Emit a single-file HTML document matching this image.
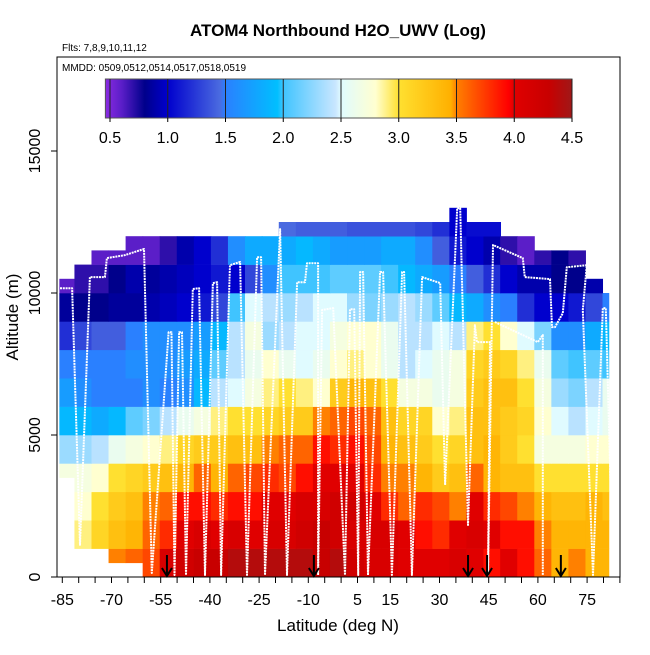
<!DOCTYPE html>
<html><head><meta charset="utf-8">
<style>
html,body{margin:0;padding:0;background:#fff;}
svg text{font-family:"Liberation Sans",sans-serif;}
</style></head>
<body>
<svg id="chart" width="650" height="650" viewBox="0 0 650 650" xmlns="http://www.w3.org/2000/svg">
<defs>
<linearGradient id="cbar" x1="0" x2="1" y1="0" y2="0">
</linearGradient>
<clipPath id="plotclip"><rect x="57" y="57" width="563" height="520"/></clipPath>
</defs>
<text x="338" y="36" text-anchor="middle" font-size="17" font-weight="bold">ATOM4 Northbound H2O_UWV (Log)</text>
<text x="62" y="51" font-size="10">Flts: 7,8,9,10,11,12</text>
<g id="heat" clip-path="url(#plotclip)"></g>
<g id="track" clip-path="url(#plotclip)"></g>
<g id="arrows"></g>
<rect x="57" y="57" width="563" height="520" fill="none" stroke="#000" stroke-width="1"/>
<text x="62" y="71" font-size="10">MMDD: 0509,0512,0514,0517,0518,0519</text>
<g id="cb"></g>
<g id="xaxis"></g>
<g id="yaxis"></g>
<text x="338" y="631" text-anchor="middle" font-size="17">Latitude (deg N)</text>
<text x="18" y="317" text-anchor="middle" font-size="17" transform="rotate(-90 18 317)">Altitude (m)</text>
</svg>
<script>
// ---- data ----
const latCenters = [-83.9,-78.7,-73.5,-68.3,-63.1,-57.9,-52.7,-47.5,-42.3,-37.1,-31.9,-26.7,-21.6,-16.4,-11.2,-6.0,-0.8,4.4,9.6,14.8,20.0,25.2,30.4,35.6,40.8,46.0,51.1,56.3,61.5,66.7,71.9,77.1,82.3];
const colWidthDeg = 5.2;
const altRowBottoms = [0,1000,2000,3000,4000,5000,6000,7000,8000,9000,10000,11000,12000];
const colTop = [10500,11000,11500,11500,12000,12000,12000,12000,12000,12000,12000,12000,12000,12500,12500,12500,12500,12500,12500,12500,12500,12500,12500,13000,12500,12500,12000,12000,11500,11500,11500,10500,10000];
const colBottom = [3500,1000,1000,500,500,0,0,0,0,0,0,0,0,0,0,0,0,0,0,0,0,0,0,0,0,0,0,0,0,0,0,0,0];
const row0 = [0,0,0,3.5,3.6,3.7,4.1,4.2,4.3,4.3,4.4,4.4,4.4,4.4,4.4,4.3,4.4,4.2,4.1,4.1,4.0,4.0,4.0,4.1,4.0,3.9,4.0,3.9,3.6,3.4,3.5,3.4,3.4];
const row1 = [0,2.9,3.1,3.3,3.4,3.6,3.8,4.0,4.1,4.0,4.1,4.0,4.1,4.1,4.2,4.3,4.2,4.1,4.1,4.1,4.0,3.9,3.8,4.0,4.1,4.0,3.9,3.9,3.5,3.4,3.4,3.4,3.4];
const row2 = [2.8,2.8,3.0,3.2,3.3,3.5,3.6,3.9,3.9,3.8,3.9,3.9,4.0,4.0,4.1,4.1,4.2,4.2,4.0,3.8,3.6,3.8,3.7,3.5,4.0,3.8,3.7,3.5,3.4,3.3,3.3,3.4,3.3];
const row3 = [2.7,2.7,2.8,3.0,3.1,3.2,3.3,3.4,3.6,3.4,3.6,3.7,3.8,3.7,3.9,4.0,4.0,4.0,3.8,3.5,3.5,3.4,3.2,3.3,3.6,3.4,3.3,3.3,3.0,3.0,3.0,3.0,3.0];
const row4 = [2.3,2.3,2.4,2.6,2.7,2.8,2.9,3.1,3.2,3.2,3.3,3.3,3.5,3.6,3.6,3.9,3.8,3.9,3.7,3.4,3.3,3.2,3.0,3.1,3.3,3.4,3.2,3.0,2.7,2.7,2.7,2.8,2.8];
const row5 = [1.9,1.9,1.8,1.9,2.1,2.2,2.4,2.6,2.7,2.9,3.0,3.0,3.1,3.2,3.2,3.5,3.6,3.7,3.6,3.3,3.1,3.1,2.8,2.9,3.3,3.3,3.2,3.1,2.8,2.5,2.4,2.5,2.6];
const row6 = [1.7,1.6,1.5,1.5,1.5,1.6,1.5,1.6,1.9,2.4,2.5,2.7,2.9,3.0,2.9,2.8,3.2,3.4,3.3,3.0,2.7,2.7,2.6,2.7,3.2,3.3,3.3,3.0,2.7,2.3,2.2,2.4,2.6];
const row7 = [1.5,1.5,1.5,1.5,1.6,1.6,1.6,1.7,1.8,2.1,2.4,2.6,2.8,2.6,2.5,2.6,2.8,2.9,2.8,2.6,2.4,2.5,2.6,2.7,3.1,3.2,3.1,2.9,2.6,2.1,2.0,2.1,2.0];
const row8 = [1.2,1.3,1.4,1.4,1.5,1.6,1.6,1.6,1.7,1.9,2.4,2.7,2.3,2.4,2.5,2.5,2.7,2.8,2.8,2.6,2.4,2.4,2.5,2.4,2.9,3.0,2.8,2.5,2.2,1.6,1.6,1.8,1.9];
const row9 = [0.85,0.8,0.8,0.85,0.85,0.9,0.95,1.0,1.1,1.3,2.0,2.5,2.4,2.3,2.4,2.5,2.5,2.3,2.2,2.3,2.4,2.3,2.1,1.9,1.8,1.6,1.5,1.2,1.0,1.0,1.1,1.3,1.5];
const row10 = [0.6,0.7,0.7,0.8,0.9,0.85,0.9,0.95,1.0,1.1,1.0,1.3,1.6,2.0,2.0,2.0,2.1,2.1,2.1,2.0,1.9,1.8,1.7,1.5,1.4,1.2,1.0,0.9,0.9,0.8,0.8,0.9,1.0];
const row11 = [0,0,0.6,0.6,0.6,0.6,0.7,0.9,1.0,1.2,1.6,1.8,1.8,1.8,1.9,1.8,1.7,1.7,1.7,1.8,1.8,1.6,1.4,1.1,1.0,0.9,0.7,0.6,0.7,0.8,0.7,0,0];
const row12 = [0,0,0,0,0,0,0,0,0,0,0,0,0,1.45,1.4,1.4,1.4,1.35,1.35,1.35,1.35,1.3,1.2,1.0,1.05,1.05,0,0,0,0,0,0,0];
const rows = [row0,row1,row2,row3,row4,row5,row6,row7,row8,row9,row10,row11,row12];
const trackLat = [-85.7,-82.0,-79.6,-76.6,-72.0,-71.4,-66.0,-60.1,-57.7,-52.6,-51.7,-50.8,-49.4,-48.5,-47.3,-45.2,-43.3,-41.5,-39.1,-37.8,-36.6,-33.9,-30.8,-28.7,-25.6,-24.4,-23.2,-18.6,-16.5,-13.4,-11.0,-10.4,-7.0,-7.0,-5.8,-2.4,1.2,2.7,4.0,5.2,5.8,6.7,8.2,11.9,12.8,15.5,18.6,19.2,21.6,24.7,30.2,31.7,35.4,36.3,38.7,40.8,41.4,45.4,44.8,46.3,55.4,56.0,63.7,64.3,65.2,67.6,68.8,74.9,73.7,76.8,79.8,80.7,82.9];
const trackAlt = [10170,10170,1130,10560,10560,11230,11330,11550,140,8620,8620,70,8620,8620,70,10140,10170,70,10350,10380,70,10980,11090,70,11260,11260,70,12250,70,10380,10380,11050,11050,70,9400,9470,70,9430,9430,70,10740,10740,70,10740,10740,70,10740,10740,70,10560,10350,3240,12990,12990,1830,8870,8270,8270,70,11690,11230,10560,10490,8800,8800,9290,10910,10980,9400,70,9470,9470,70];
const track2Lat = [46.9,60.0,61.5,61.5];
const track2Alt = [8980,8270,8520,70];
const arrowLats = [-53.1,-8.3,38.7,44.5,67.0];
const xTickLabels = [-85,-70,-55,-40,-25,-10,5,15,30,45,60,75];
const yTickLabels = [0,5000,10000,15000];
const cbTickLabels = [0.5,1.0,1.5,2.0,2.5,3.0,3.5,4.0,4.5];
const cbStopVals = [0.46,0.6,0.8,1.0,1.45,1.5,1.95,2.0,2.45,2.5,2.8,3.0,3.45,3.5,3.95,4.0,4.3,4.5];
const cbStopCols = ["#8a2be2","#5b1ec8","#00008b","#0000cd","#4a6ae0","#2a80ff","#00bfff","#40c4ff","#c8e6ff","#e0fbff","#ffffd0","#ffe030","#ffb000","#ff8000","#ff0000","#e00000","#c80000","#a01818"];

// ---- scales ----
const NS="http://www.w3.org/2000/svg";
const xS = lat => 62.3 + (lat + 85) * 3.28;
const yS = alt => 577 - alt * 0.0284;
const cbX = v => 110 + (v - 0.5) * 115.5;
function hex(c){return [parseInt(c.substr(1,2),16),parseInt(c.substr(3,2),16),parseInt(c.substr(5,2),16)];}
function colorOf(v){
  if(v<=cbStopVals[0]) return cbStopCols[0];
  for(let i=1;i<cbStopVals.length;i++){
    if(v<=cbStopVals[i]){
      const t=(v-cbStopVals[i-1])/(cbStopVals[i]-cbStopVals[i-1]);
      const a=hex(cbStopCols[i-1]), b=hex(cbStopCols[i]);
      return "rgb("+a.map((x,k)=>Math.round(x+(b[k]-x)*t)).join(",")+")";
    }
  }
  return cbStopCols[cbStopCols.length-1];
}
function mk(tag, attrs, parent){const e=document.createElementNS(NS,tag);for(const k in attrs)e.setAttribute(k,attrs[k]);parent.appendChild(e);return e;}

// ---- heatmap ----
const heat=document.getElementById('heat');
rows.forEach((row,r)=>{
  const rb=altRowBottoms[r], rt=rb+1000;
  row.forEach((v,c)=>{
    if(!v) return;
    const lo=Math.max(rb,colBottom[c]), hi=Math.min(rt,colTop[c]);
    if(hi<=lo) return;
    const x0=xS(Math.max(latCenters[c]-colWidthDeg/2,-85.9)), x1=xS(Math.min(latCenters[c]+colWidthDeg/2,81.6));
    const el=mk('rect',{x:x0,y:yS(hi),width:x1-x0+0.5,height:yS(lo)-yS(hi)+0.3,fill:colorOf(v)},heat);
    
    
  });
});

// ---- track ----
const track=document.getElementById('track');
function poly(la,al){
  const pts=la.map((l,i)=>xS(l).toFixed(1)+","+yS(al[i]).toFixed(1)).join(" ");
  const el=mk('polyline',{points:pts,fill:"none",stroke:"#fff","stroke-width":"2","stroke-dasharray":"2 0.8","stroke-linejoin":"round"},track);
  
  
}
poly(trackLat,trackAlt);
poly(track2Lat,track2Alt);

// ---- arrows ----
const arr=document.getElementById('arrows');
arrowLats.forEach(l=>{
  const x=xS(l);
  const g=mk('g',{},arr);
  
  
  mk('line',{x1:x,y1:555,x2:x,y2:576,stroke:"#000","stroke-width":"2"},g);
  mk('polyline',{points:(x-5)+",568 "+x+",576 "+(x+5)+",568",fill:"none",stroke:"#000","stroke-width":"2"},g);
});

// ---- x axis ----
const xa=document.getElementById('xaxis');
for(let l=-85;l<=85;l+=5){
  const el=mk('line',{x1:xS(l),y1:577,x2:xS(l),y2:583,stroke:"#000","stroke-width":"1"},xa);
  
  
}
xTickLabels.forEach(l=>{
  const t=mk('text',{x:xS(l),y:605,"text-anchor":"middle","font-size":"16"},xa);
  t.textContent=l;
  
  
});
// ---- y axis ----
const ya=document.getElementById('yaxis');
yTickLabels.forEach(a=>{
  const y=yS(a);
  const el=mk('line',{x1:51,y1:y,x2:57,y2:y,stroke:"#000","stroke-width":"1"},ya);
  
  
  const t=mk('text',{x:40,y:y,"text-anchor":"middle","font-size":"16",transform:"rotate(-90 40 "+y+")"},ya);
  t.textContent=a;
  
  
});

// ---- colorbar ----
const grad=document.getElementById('cbar');
cbStopVals.forEach((v,i)=>{
  mk('stop',{offset:((v-0.46)/(4.5-0.46)).toFixed(4),"stop-color":cbStopCols[i]},grad);
});
const cb=document.getElementById('cb');
const cbx0=cbX(0.46), cbx1=cbX(4.5);
const bar=mk('rect',{x:cbx0,y:79,width:cbx1-cbx0,height:39,fill:"url(#cbar)",stroke:"#555","stroke-width":"1"},cb);


cbTickLabels.forEach(v=>{
  const x=cbX(v);
  mk('line',{x1:x,y1:79,x2:x,y2:118,stroke:"#222","stroke-width":"1"},cb);
  mk('line',{x1:x,y1:118,x2:x,y2:122,stroke:"#000","stroke-width":"1"},cb);
  const t=mk('text',{x:x,y:143,"text-anchor":"middle","font-size":"16"},cb);
  t.textContent=v.toFixed(1);
  
  
});
</script>
</body></html>
